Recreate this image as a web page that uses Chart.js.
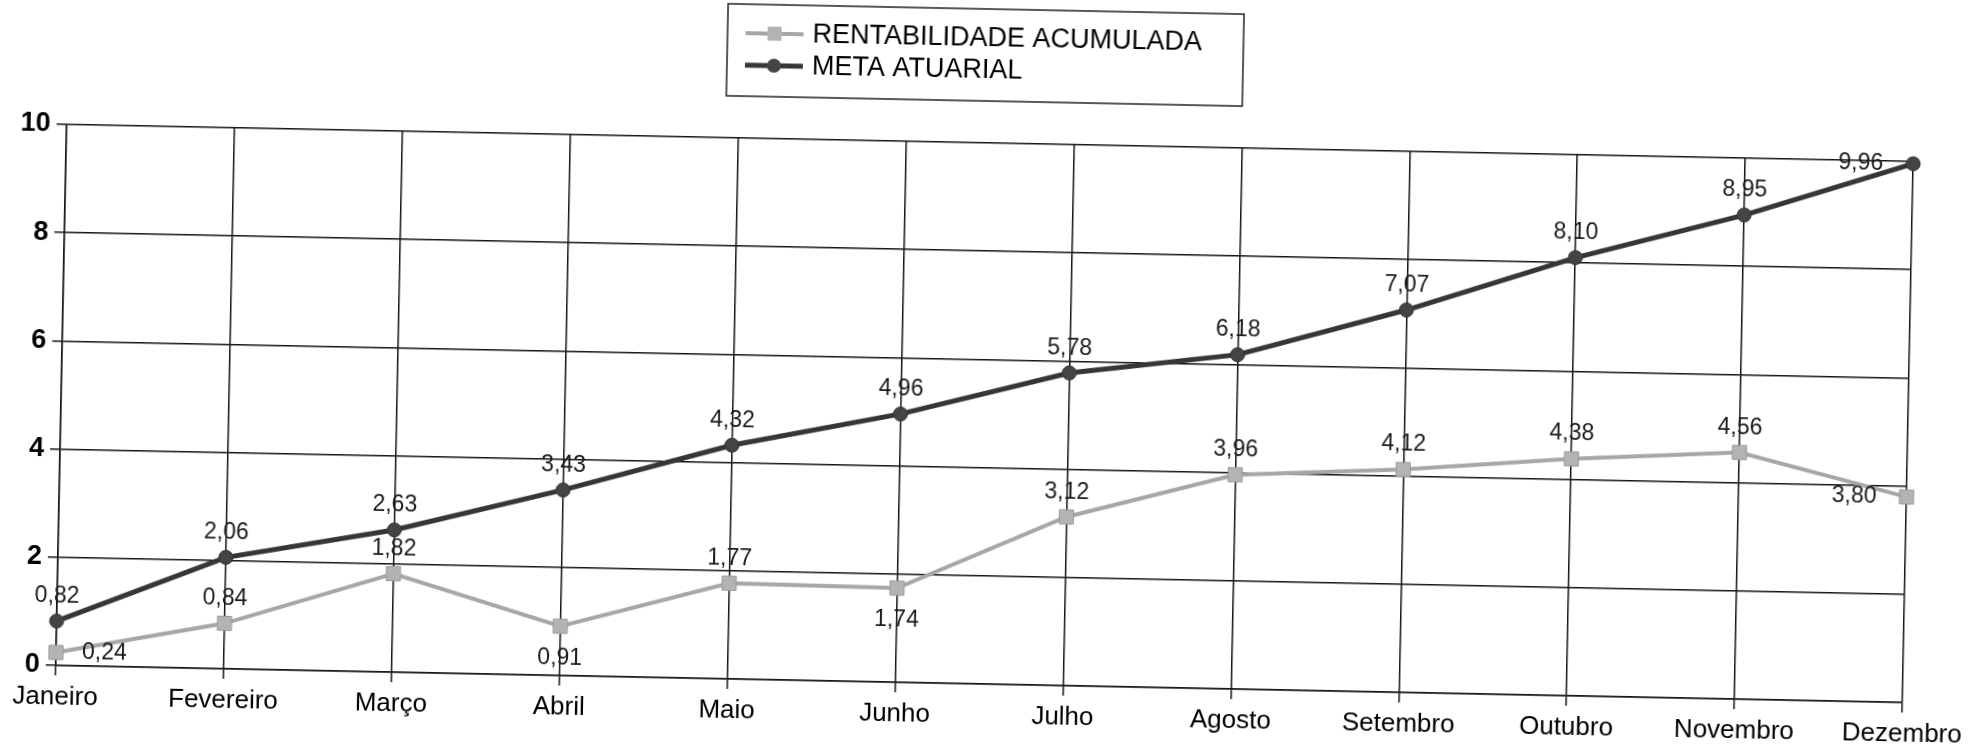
<!DOCTYPE html>
<html>
<head>
<meta charset="utf-8">
<title>Rentabilidade x Meta Atuarial</title>
<script src="https://cdn.jsdelivr.net/npm/chart.js@4.4.1/dist/chart.umd.min.js"></script>
<style>
  html, body { margin: 0; padding: 0; background: #fff; overflow: hidden; }
  /* o gráfico fica levemente inclinado, como na folha digitalizada */
  #wrap { position: relative; width: 1984px; height: 749px; transform: rotate(1.15deg); transform-origin: 984px 413px; }
</style>
</head>
<body>
<div id="wrap"><canvas id="grafico" width="1984" height="749"></canvas></div>
<script>
const meses = ['Janeiro', 'Fevereiro', 'Março', 'Abril', 'Maio', 'Junho', 'Julho', 'Agosto', 'Setembro', 'Outubro', 'Novembro', 'Dezembro'];
const rentabilidadeAcumulada = [0.24, 0.84, 1.82, 0.91, 1.77, 1.74, 3.12, 3.96, 4.12, 4.38, 4.56, 3.80];
const metaAtuarial = [0.82, 2.06, 2.63, 3.43, 4.32, 4.96, 5.78, 6.18, 7.07, 8.10, 8.95, 9.96];
const yTicks = [0, 2, 4, 6, 8, 10];

// onde fica o rótulo de cada ponto
const posRentabilidade = ['right', 'above', 'above', 'below', 'above', 'below', 'above', 'above', 'above', 'above', 'above', 'left'];
const posMeta = ['above', 'above', 'above', 'above', 'above', 'above', 'above', 'above', 'above', 'above', 'above', 'left'];

const corRent = '#a7a7a7';
const corMeta = '#363636';
const corGrade = '#151515';
const fonte = "'Liberation Sans', Arial, sans-serif";

function fmt(v) {
  return v.toFixed(2).replace('.', ',');
}

// rótulos de valor em cada ponto
const rotulos = {
  id: 'rotulos',
  afterDatasetsDraw(chart) {
    const ctx = chart.ctx;
    const posicoes = [posRentabilidade, posMeta];
    ctx.save();
    ctx.font = '23px ' + fonte;
    ctx.fillStyle = '#1a1a1a';
    chart.data.datasets.forEach((ds, i) => {
      const meta = chart.getDatasetMeta(i);
      meta.data.forEach((pt, j) => {
        const pos = posicoes[i][j];
        const txt = fmt(ds.data[j]);
        ctx.textBaseline = 'middle';
        if (pos === 'above') {
          ctx.textAlign = 'center';
          ctx.fillText(txt, pt.x, pt.y - 25);
        } else if (pos === 'below') {
          ctx.textAlign = 'center';
          ctx.fillText(txt, pt.x, pt.y + 32);
        } else if (pos === 'right') {
          ctx.textAlign = 'left';
          ctx.fillText(txt, pt.x + 26, pt.y);
        } else {
          ctx.textAlign = 'right';
          ctx.fillText(txt, pt.x - 30, pt.y);
        }
      });
    });
    ctx.restore();
  }
};

// legenda em caixa, duas linhas
const legendaCaixa = {
  id: 'legendaCaixa',
  afterDraw(chart) {
    const ctx = chart.ctx;
    const bx = 720, by = 9, bw = 516, bh = 92;
    ctx.save();
    ctx.strokeStyle = '#222';
    ctx.lineWidth = 1.5;
    ctx.strokeRect(bx, by, bw, bh);
    const linhas = [38, 70];
    chart.data.datasets.forEach((ds, i) => {
      const y = linhas[i];
      ctx.strokeStyle = ds.borderColor;
      ctx.lineWidth = ds.borderWidth;
      ctx.beginPath();
      ctx.moveTo(738, y);
      ctx.lineTo(796, y);
      ctx.stroke();
      ctx.fillStyle = ds.pointBackgroundColor;
      if (ds.pointStyle === 'rect') {
        ctx.fillRect(767 - 7, y - 7, 14, 14);
      } else {
        ctx.beginPath();
        ctx.arc(767, y, 7, 0, Math.PI * 2);
        ctx.fill();
      }
      ctx.fillStyle = '#000';
      ctx.font = '27px ' + fonte;
      ctx.textAlign = 'left';
      ctx.textBaseline = 'middle';
      ctx.fillText(ds.label, 805, y + 1);
    });
    ctx.restore();
  }
};

new Chart(document.getElementById('grafico'), {
  type: 'line',
  data: {
    labels: meses,
    datasets: [
      {
        label: 'RENTABILIDADE ACUMULADA',
        data: rentabilidadeAcumulada,
        borderColor: corRent,
        borderWidth: 4,
        pointStyle: 'rect',
        pointRadius: 10,
        pointBackgroundColor: '#b3b3b3',
        pointBorderColor: '#9a9a9a',
        pointBorderWidth: 1,
        tension: 0,
        clip: false
      },
      {
        label: 'META ATUARIAL',
        data: metaAtuarial,
        borderColor: corMeta,
        borderWidth: 5,
        pointStyle: 'circle',
        pointRadius: 7,
        pointBackgroundColor: '#444',
        pointBorderColor: '#333',
        pointBorderWidth: 1,
        tension: 0,
        clip: false
      }
    ]
  },
  options: {
    responsive: false,
    animation: false,
    devicePixelRatio: 1,
    layout: { padding: { top: 143, right: 76, left: 0, bottom: 0 } },
    plugins: {
      legend: { display: false },
      tooltip: { enabled: false }
    },
    scales: {
      x: {
        type: 'category',
        offset: false,
        grid: { color: corGrade, lineWidth: 1.5, tickLength: 10 },
        border: { color: corGrade, width: 1.5 },
        ticks: {
          color: '#000',
          font: { family: fonte, size: 26 },
          padding: 6,
          maxRotation: 0,
          autoSkip: false
        },
        afterFit: s => { s.height = 65; }
      },
      y: {
        min: 0,
        max: 10,
        afterBuildTicks: s => { s.ticks = yTicks.map(v => ({ value: v })); },
        grid: { color: corGrade, lineWidth: 1.5, tickLength: 10 },
        border: { color: corGrade, width: 1.5 },
        ticks: {
          color: '#000',
          font: { family: fonte, size: 27, weight: 'bold' },
          padding: 6
        },
        afterFit: s => { s.width = 61; }
      }
    }
  },
  plugins: [rotulos, legendaCaixa]
});
</script>
</body>
</html>
